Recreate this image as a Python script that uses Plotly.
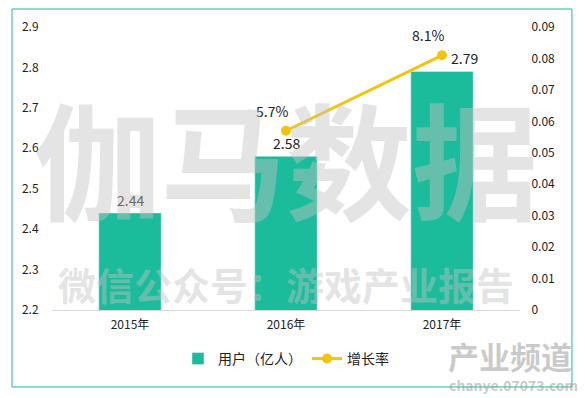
import plotly.graph_objects as go

years = ["2015年", "2016年", "2017年"]
users = [2.44, 2.58, 2.79]
growth_years = ["2016年", "2017年"]
growth = [0.057, 0.081]
growth_labels = ["5.7%", "8.1%"]

TEAL = "#1abc9c"
GOLD = "#f1c40f"
FONT = "Noto Sans CJK SC"

fig = go.Figure()
fig.add_trace(go.Bar(x=years, y=users, name="用户（亿人）", marker_color=TEAL,
                     width=0.4, yaxis="y"))
fig.add_trace(go.Scatter(x=growth_years, y=growth, name="增长率", mode="lines+markers",
                         line=dict(color=GOLD, width=3), marker=dict(color=GOLD, size=10),
                         yaxis="y2"))

ann = []
shifts = [0, 0, 22]
for x, v, s in zip(years, users, shifts):
    ann.append(dict(x=x, y=v, xref="x", yref="y", text=f"{v:.2f}", showarrow=False,
                    yanchor="bottom", xshift=s, yshift=1,
                    font=dict(family=FONT, size=14, color="#222")))
for x, v, t in zip(growth_years, growth, growth_labels):
    ann.append(dict(x=x, y=v, xref="x", yref="y2", text=t, showarrow=False,
                    yanchor="bottom", xshift=-14, yshift=8,
                    font=dict(family=FONT, size=14, color="#222")))
# watermarks
ann.append(dict(x=0.5, y=0.545, xref="paper", yref="paper", text="伽马数据", showarrow=False,
                font=dict(family=FONT, size=126, weight="bold", color="rgba(195,195,195,0.45)"),
                xanchor="center", yanchor="middle"))
ann.append(dict(x=0.5, y=0.095, xref="paper", yref="paper", text="微信公众号：游戏产业报告",
                showarrow=False,
                font=dict(family=FONT, size=38, weight="bold", color="rgba(195,195,195,0.45)"),
                xanchor="center", yanchor="middle"))
ann.append(dict(x=(510 - 52) / 468, y=(310 - 355) / 283, xref="paper", yref="paper",
                text="产业频道", showarrow=False,
                font=dict(family=FONT, size=31, weight="bold", color="rgba(150,150,150,0.5)"),
                xanchor="center", yanchor="middle"))
ann.append(dict(x=(513 - 52) / 468, y=(310 - 385) / 283, xref="paper", yref="paper",
                text="chanye.07073.com", showarrow=False,
                font=dict(family=FONT, size=14, weight="bold", color="rgba(150,150,150,0.5)"),
                xanchor="center", yanchor="middle"))

fig.update_layout(
    width=585, height=398,
    margin=dict(l=52, r=65, t=27, b=88, autoexpand=False),
    paper_bgcolor="white", plot_bgcolor="white",
    font=dict(family=FONT, size=12, color="#222"),
    showlegend=True,
    legend=dict(orientation="h", x=0.5, xanchor="center", y=-0.173, yanchor="middle",
                font=dict(family=FONT, size=14, color="#222")),
    xaxis=dict(showline=True, linecolor="#d9d9d9", linewidth=1, showgrid=False,
               ticks="outside", ticklen=4, tickcolor="white", automargin=False,
               tickfont=dict(family=FONT, size=12, color="#222")),
    yaxis=dict(range=[2.2, 2.9], dtick=0.1, showgrid=False, zeroline=False,
               ticks="outside", ticklen=10, tickcolor="white", tickformat=".1f",
               automargin=False,
               tickfont=dict(family=FONT, size=12, color="#222")),
    yaxis2=dict(range=[0, 0.09], dtick=0.01, overlaying="y", side="right", showgrid=False,
                zeroline=False, ticks="outside", ticklen=8, tickcolor="white",
                automargin=False,
                tickfont=dict(family=FONT, size=12, color="#222")),
    annotations=ann,
    shapes=[dict(type="rect", xref="paper", yref="paper", x0=-0.0855, x1=1.111,
                 y0=-0.272, y1=1.0636, line=dict(color=TEAL, width=1))],
)

fig.write_html("out.html", config={"displayModeBar": False},
               post_script="document.body.style.margin='0';")
